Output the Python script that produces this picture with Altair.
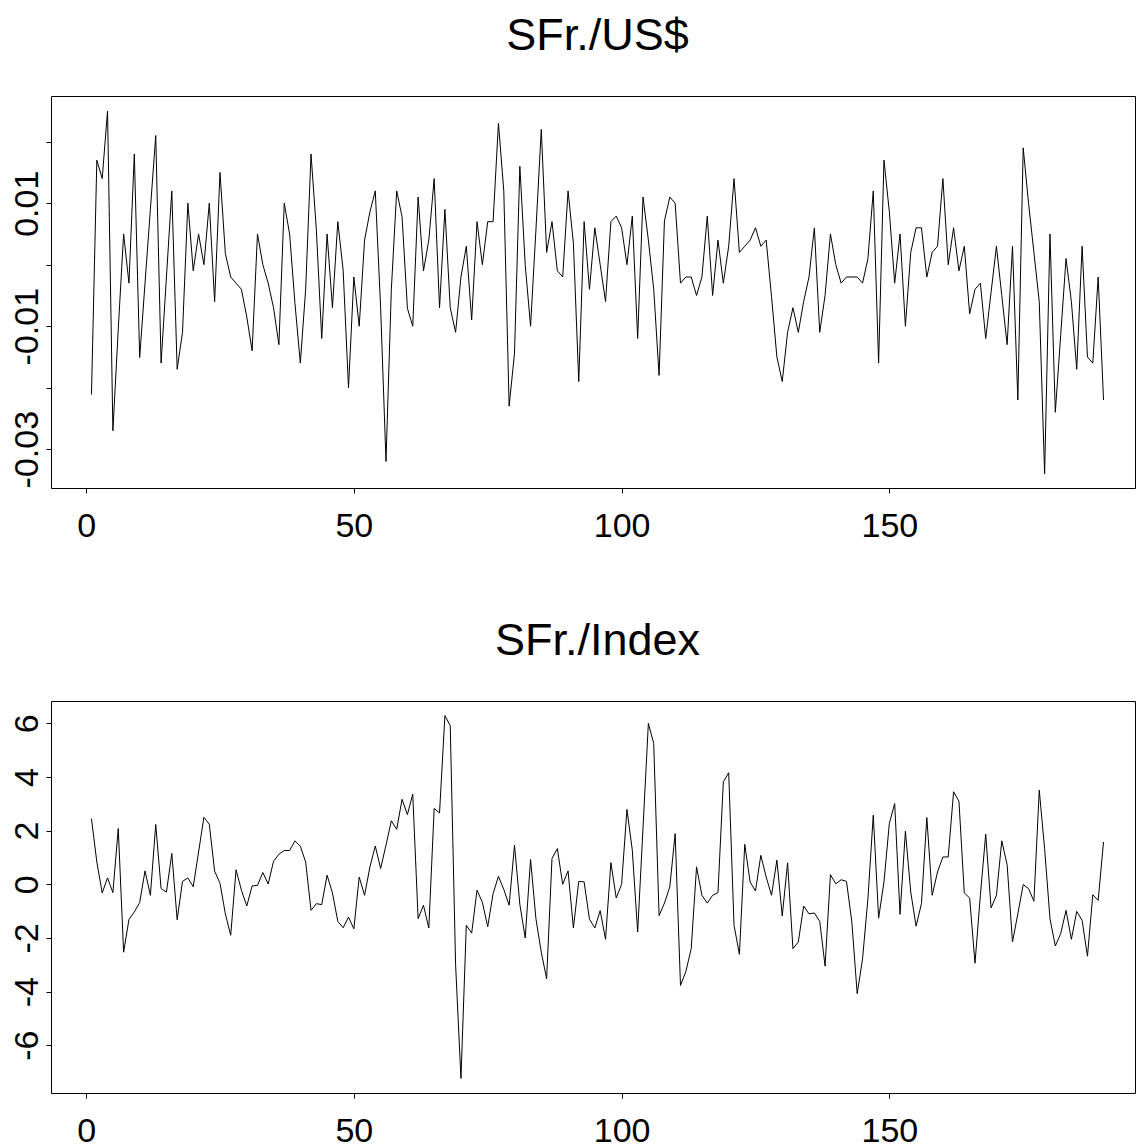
import altair as alt
import pandas as pd

# time index
t = list(range(1, 191))

# SFr./US$ series
usd = [
    -0.0211, 0.0170, 0.0140, 0.0250, -0.0270, -0.0105, 0.0050, -0.0030, 0.0180, -0.0151,
    -0.0030, 0.0090, 0.0210, -0.0160, -0.0020, 0.0120, -0.0170, -0.0110, 0.0100, -0.0010,
    0.0050, 0.0000, 0.0100, -0.0060, 0.0150, 0.0018, -0.0020, -0.0030, -0.0040, -0.0085,
    -0.0140, 0.0050, 0.0000, -0.0030, -0.0070, -0.0130, 0.0100, 0.0050, -0.0063, -0.0160,
    -0.0040, 0.0180, 0.0056, -0.0120, 0.0050, -0.0070, 0.0070, -0.0009, -0.0200, -0.0020,
    -0.0100, 0.0040, 0.0086, 0.0120, -0.0070, -0.0320, -0.0040, 0.0120, 0.0078, -0.0071,
    -0.0100, 0.0110, -0.0010, 0.0040, 0.0140, -0.0070, 0.0090, -0.0070, -0.0110, -0.0020,
    0.0030, -0.0090, 0.0070, 0.0000, 0.0070, 0.0070, 0.0230, 0.0120, -0.0230, -0.0144,
    0.0160, 0.0000, -0.0100, 0.0056, 0.0220, 0.0020, 0.0070, -0.0010, -0.0020, 0.0120,
    0.0035, -0.0190, 0.0070, -0.0040, 0.0060, 0.0000, -0.0060, 0.0070, 0.0079, 0.0060,
    0.0000, 0.0079, -0.0120, 0.0110, 0.0040, -0.0040, -0.0180, 0.0071, 0.0110, 0.0100,
    -0.0030, -0.0020, -0.0020, -0.0050, -0.0020, 0.0079, -0.0050, 0.0040, -0.0030, 0.0030,
    0.0140, 0.0020, 0.0030, 0.0040, 0.0060, 0.0030, 0.0040, -0.0052, -0.0150, -0.0190,
    -0.0110, -0.0070, -0.0110, -0.0060, -0.0020, 0.0060, -0.0110, -0.0050, 0.0050, 0.0000,
    -0.0030, -0.0020, -0.0020, -0.0020, -0.0030, 0.0010, 0.0120, -0.0160, 0.0170, 0.0086,
    -0.0030, 0.0050, -0.0100, 0.0020, 0.0060, 0.0060, -0.0020, 0.0020, 0.0030, 0.0140,
    0.0000, 0.0060, -0.0010, 0.0030, -0.0080, -0.0040, -0.0030, -0.0120, -0.0045, 0.0030,
    -0.0050, -0.0130, 0.0030, -0.0220, 0.0190, 0.0100, 0.0020, -0.0060, -0.0340, 0.0050,
    -0.0240, -0.0115, 0.0010, -0.0060, -0.0170, 0.0030, -0.0150, -0.0160, -0.0020, -0.0220,
]

# SFr./Index series
idx = [
    2.45, 0.83, -0.32, 0.24, -0.31, 2.08, -2.53, -1.31, -1.03, -0.68,
    0.50, -0.41, 2.23, -0.16, -0.29, 1.15, -1.32, 0.11, 0.24, -0.09,
    1.20, 2.50, 2.24, 0.49, 0.04, -1.10, -1.90, 0.54, -0.22, -0.81,
    -0.06, -0.04, 0.44, 0.01, 0.86, 1.12, 1.26, 1.26, 1.62, 1.42,
    0.83, -0.97, -0.72, -0.76, 0.34, -0.32, -1.38, -1.62, -1.22, -1.66,
    0.27, -0.41, 0.65, 1.43, 0.59, 1.46, 2.37, 2.05, 3.17, 2.60,
    3.36, -1.28, -0.78, -1.63, 2.83, 2.66, 6.29, 5.91, -3.00, -7.24,
    -1.53, -1.82, -0.22, -0.67, -1.58, -0.35, 0.30, -0.19, -0.78, 1.46,
    -0.75, -2.00, 0.93, -1.28, -2.53, -3.52, 0.96, 1.33, 0.00, 0.50,
    -1.63, 0.11, 0.09, -1.30, -1.63, -0.98, -2.05, 0.81, -0.51, 0.00,
    2.79, 1.27, -1.78, 2.10, 6.00, 5.25, -1.17, -0.70, -0.10, 1.89,
    -3.77, -3.25, -2.40, 0.65, -0.41, -0.70, -0.41, -0.31, 3.82, 4.16,
    -1.53, -2.61, 1.49, 0.09, -0.25, 1.08, 0.27, -0.41, 0.90, -1.18,
    0.80, -2.40, -2.15, -0.81, -1.10, -1.07, -1.38, -3.05, 0.36, 0.02,
    0.17, 0.11, -1.41, -4.08, -2.78, -0.54, 2.58, -1.26, 0.09, 2.27,
    3.01, -1.12, 1.98, -0.29, -1.56, -0.72, 2.49, -0.41, 0.46, 1.02,
    1.02, 3.45, 3.10, -0.32, -0.51, -2.94, -0.41, 1.87, -0.88, -0.41,
    1.62, 0.73, -2.15, -1.10, -0.01, -0.16, -0.63, 3.51, 1.33, -1.28,
    -2.30, -1.84, -0.97, -2.05, -1.01, -1.34, -2.68, -0.39, -0.60, 1.58,
]

titles = ["SFr./US$", "SFr./Index"]
x_ticks = [0, 50, 100, 150]
usd_ticks = [-0.03, -0.02, -0.01, 0.0, 0.01, 0.02]
usd_tick_labels = ["-0.03", "", "-0.01", "", "0.01", ""]
idx_ticks = [-6, -4, -2, 0, 2, 4, 6]
idx_tick_labels = ["-6", "-4", "-2", "0", "2", "4", "6"]

LABEL_FONT = "Liberation Sans Narrow, Liberation Sans, Arial, sans-serif"
YLABEL_FONT = "Liberation Sans, Arial, sans-serif"
TITLE_FONT = "Liberation Sans, Arial, sans-serif"

# plot geometry: reference x-scale is 1093 px for [-6.56, 197.56];
# keep the same px-per-unit but a slightly narrower box so the page fits.
REF_W = 1093.0
X0, X1 = -6.56, 197.56
W = 1084
X_MAX = X0 + W * (X1 - X0) / REF_W
H = 392


def label_expr(vals, labels):
    expr = "''"
    for v, s in zip(reversed(vals), reversed(labels)):
        expr = f"abs(datum.value - ({v})) < 1e-9 ? '{s}' : ({expr})"
    return expr


def panel(vals, title, ydom, yticks, ylabels):
    df = pd.DataFrame({"t": t, "v": vals})
    return (
        alt.Chart(df)
        .mark_line(color="black", strokeWidth=1, clip=True)
        .encode(
            x=alt.X(
                "t:Q",
                scale=alt.Scale(domain=[X0, X_MAX], nice=False, zero=False),
                axis=alt.Axis(
                    values=x_ticks, title=None, grid=False, domain=False,
                    tickSize=5, tickColor="black", tickWidth=1,
                    labelPadding=16, labelFontSize=34, labelFont=LABEL_FONT,
                    labelColor="black", labelAngle=0, labelAlign="center",
                    labelBaseline="top", labelFlush=False, labelOverlap=False,
                    format="d",
                ),
            ),
            y=alt.Y(
                "v:Q",
                scale=alt.Scale(domain=ydom, nice=False, zero=False),
                axis=alt.Axis(
                    values=yticks, title=None, grid=False, domain=False,
                    tickSize=5, tickColor="black", tickWidth=1,
                    labelPadding=9, labelFontSize=34, labelFont=YLABEL_FONT,
                    labelColor="black", labelAngle=270, labelAlign="center",
                    labelBaseline="alphabetic", labelFlush=False, labelOverlap=False,
                    labelExpr=label_expr(yticks, ylabels),
                ),
            ),
        )
        .properties(
            width=W,
            height=H,
            title=alt.TitleParams(
                title, fontSize=45, font=TITLE_FONT, fontWeight="normal",
                anchor="middle", baseline="top", offset=37.5, color="black",
                dx=(REF_W - W) / 2,
            ),
        )
    )


top = panel(usd, titles[0], [-0.03631, 0.02743], usd_ticks, usd_tick_labels)
bottom = panel(idx, titles[1], [-7.780, 6.834], idx_ticks, idx_tick_labels)

chart = (
    alt.vconcat(top, bottom, spacing=74)
    .properties(padding={"left": 1, "top": 5, "right": 0, "bottom": 0}, background="white")
    .configure_view(stroke="black", strokeWidth=1)
)

chart.save("out.html", embed_options={"renderer": "svg", "actions": False})
